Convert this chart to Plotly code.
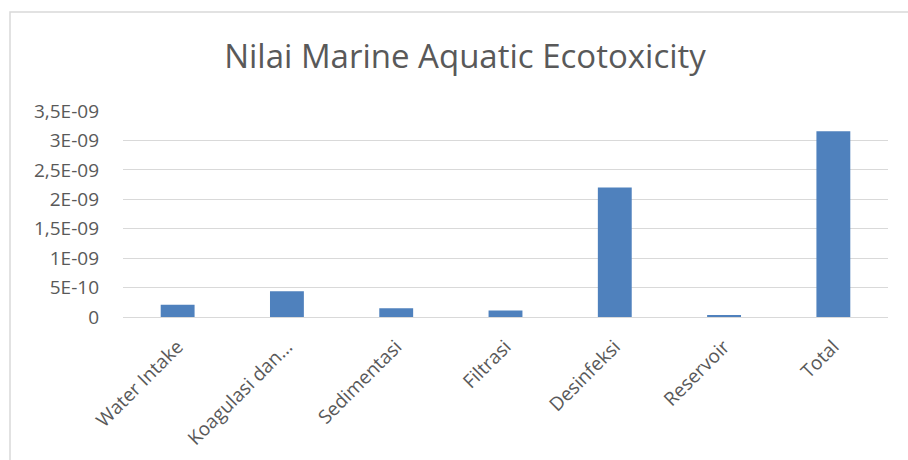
import plotly.graph_objects as go

# Proses pengolahan air dan nilai Marine Aquatic Ecotoxicity
categories = ["Water Intake", "Koagulasi dan...", "Sedimentasi", "Filtrasi",
              "Desinfeksi", "Reservoir", "Total"]
values = [0.21e-9, 0.436e-9, 0.148e-9, 0.109e-9, 2.20e-9, 0.03e-9, 3.155e-9]

tick_vals = [0, 0.5e-9, 1.0e-9, 1.5e-9, 2.0e-9, 2.5e-9, 3.0e-9, 3.5e-9]
tick_text = ["0", "5E-10", "1E-09", "1,5E-09", "2E-09", "2,5E-09", "3E-09", "3,5E-09"]

W, H = 908, 460
ML, MR, MT, MB = 123, 20, 111, 143
pw, ph = W - ML - MR, H - MT - MB

font_family = "'Open Sans', sans-serif"
text_color = "#595959"
grid_color = "#d9d9d9"

fig = go.Figure(
    go.Bar(
        x=categories,
        y=values,
        marker=dict(color="#4f81bd", line=dict(width=0)),
        hoverinfo="x+y",
    )
)

# outer chart frame
fig.add_shape(
    type="rect", xref="paper", yref="paper",
    x0=(10 - ML) / pw, x1=(W + 5 - ML) / pw,
    y0=(H - MB - (H + 10)) / ph, y1=(H - MB - 12) / ph,
    line=dict(color=grid_color, width=1.5), fillcolor="rgba(0,0,0,0)",
    layer="below",
)

fig.update_layout(
    width=W, height=H,
    margin=dict(l=ML, r=MR, t=MT, b=MB, pad=0, autoexpand=False),
    paper_bgcolor="white", plot_bgcolor="white",
    bargap=0.69,
    showlegend=False,
    title=dict(
        text="Nilai Marine Aquatic Ecotoxicity",
        x=465 / W, xanchor="center", xref="container",
        y=1 - 56 / H, yanchor="middle", yref="container",
        font=dict(family=font_family, size=33, color=text_color),
    ),
    xaxis=dict(
        tickangle=-45,
        tickfont=dict(family=font_family, size=19, color=text_color),
        showgrid=False, showline=False, ticks="",
        zeroline=False, ticklabelstandoff=14, automargin=False,
    ),
    yaxis=dict(
        range=[0, 3.5e-9],
        tickvals=tick_vals, ticktext=tick_text,
        tickfont=dict(family=font_family, size=19, color=text_color),
        showgrid=True, gridcolor=grid_color, gridwidth=1.3,
        zeroline=True, zerolinecolor=grid_color, zerolinewidth=1.3,
        showline=False, ticks="", ticklabelstandoff=23, automargin=False,
    ),
)

fig.write_html("out.html")
